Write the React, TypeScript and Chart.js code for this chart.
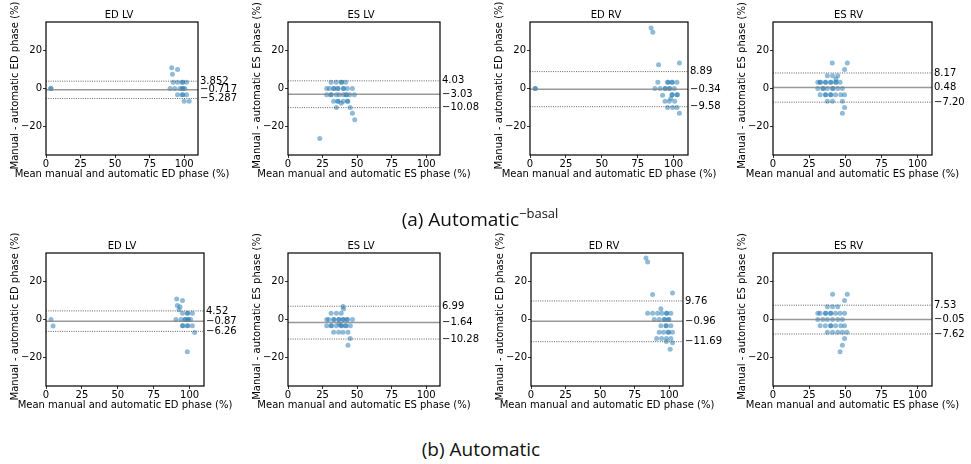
import React, { useEffect, useRef } from 'react';
import { Chart, registerables } from 'chart.js';

Chart.register(...registerables);

// ---------- shared axis settings ----------
const xTicks = [0, 25, 50, 75, 100];
const yTicks = [-20, 0, 20];
const xRange = [0, 110];
const yRange = [-35, 35];

const panelTitles = ['ED LV', 'ES LV', 'ED RV', 'ES RV'];
const xAxisTitles = [
  'Mean manual and automatic ED phase (%)',
  'Mean manual and automatic ES phase (%)',
  'Mean manual and automatic ED phase (%)',
  'Mean manual and automatic ES phase (%)',
];
const yAxisTitles = [
  'Manual - automatic ED phase (%)',
  'Manual - automatic ES phase (%)',
  'Manual - automatic ED phase (%)',
  'Manual - automatic ES phase (%)',
];
const captions = ['(a) Automatic', '(b) Automatic'];
const captionSup = '−basal';

// ---------- (a) Automatic^-basal ----------
const aEdLvX = [3.3, 3.7, 91, 95.2, 91.5, 92, 95.2, 98.5, 99, 101.7, 89.8, 93.2, 96.9, 98.6, 99.2, 100.5, 95.2, 98.5, 99, 101.7, 100, 103.6];
const aEdLvY = [0, 0, 10.9, 10, 7.5, 3.33, 3.33, 3.33, 3.33, 3.33, 0, 0, 0, 0, 0, 0, -3.33, -3.33, -3.33, -3.33, -6.67, -6.67];
const aEdLvStats = [3.852, -0.717, -5.287];
const aEdLvLabels = ['3.852', '−0.717', '−5.287'];

const aEsLvX = [23, 31.2, 34.9, 38.5, 38.8, 41.7, 28, 30, 33, 33.3, 36, 36.3, 40, 40.3, 43, 46.6, 28, 31, 31.3, 35, 37, 40, 42, 42.3, 44.6, 48, 33, 36, 36.3, 40, 43, 43.3, 38.5, 35, 45, 46.6, 48.3];
const aEsLvY = [-26.3, 3.33, 3.33, 3.33, 3.33, 3.33, 0, 0, 0, 0, 0, 0, 0, 0, 0, 0, -3.33, -3.33, -3.33, -3.33, -3.33, -3.33, -3.33, -3.33, -3.33, -3.33, -6.67, -6.67, -6.67, -6.67, -6.67, -6.67, -7.8, -10, -10, -13, -16.5];
const aEsLvStats = [4.03, -3.03, -10.08];
const aEsLvLabels = ['4.03', '−3.03', '−10.08'];

const aEdRvX = [3.5, 3.8, 84.3, 85.5, 89.5, 104, 89, 95.8, 96.1, 98.8, 99.1, 102.3, 87, 90.6, 94, 94.3, 97, 97.3, 100.5, 92.3, 98.8, 99.1, 102.3, 102.6, 98, 94, 97, 100.7, 95.8, 99.3, 102.3, 104];
const aEdRvY = [0, 0, 31.8, 29.6, 12.5, 13.4, 3.33, 3.33, 3.33, 3.33, 3.33, 3.33, 0, 0, 0, 0, 0, 0, 0, -3.5, -3.33, -3.33, -3.33, -3.33, -5.2, -6.67, -6.67, -6.67, -10, -10, -10, -13];
const aEdRvStats = [8.89, -0.34, -9.58];
const aEdRvLabels = ['8.89', '−0.34', '−9.58'];

const aEsRvX = [41, 51.4, 49.5, 37.6, 41.2, 44.8, 43.5, 31, 32.6, 33, 36.2, 36.5, 39.8, 40.1, 43.3, 43.6, 46.4, 31, 34.5, 34.8, 37.6, 41.2, 41.5, 44.8, 48, 32.6, 36.2, 36.5, 39.8, 40.1, 43.3, 46.9, 49.5, 37.6, 41.2, 48, 49.5, 48];
const aEsRvY = [13.4, 13.4, 10, 6.67, 6.67, 6.67, 5, 3.33, 3.33, 3.33, 3.33, 3.33, 3.33, 3.33, 3.33, 3.33, 3.33, 0, 0, 0, 0, 0, 0, 0, 0, -3.33, -3.33, -3.33, -3.33, -3.33, -3.33, -3.33, -3.33, -6.67, -6.67, -6.67, -10, -13];
const aEsRvStats = [8.17, 0.48, -7.2];
const aEsRvLabels = ['8.17', '0.48', '−7.20'];

// ---------- (b) Automatic ----------
const bEdLvX = [3.5, 4.9, 91, 95, 91.4, 93.3, 92.6, 95, 98.4, 98.7, 101.9, 90.5, 94, 96.7, 97, 98.8, 99.1, 100.7, 95, 95.3, 98.4, 98.7, 101.9, 103.5, 98.4];
const bEdLvY = [0, -3.4, 10.8, 10, 7.4, 6.7, 5.1, 3.33, 3.33, 3.33, 3.33, 0, 0, 0, 0, 0, 0, 0, -3.33, -3.33, -3.33, -3.33, -3.33, -6.9, -17];
const bEdLvStats = [4.52, -0.87, -6.26];
const bEdLvLabels = ['4.52', '−0.87', '−6.26'];

const bEsLvX = [39.8, 40.2, 31.2, 35, 38.5, 28, 29.5, 33, 33.3, 36.6, 36.9, 39.8, 40.1, 42.7, 43, 46.6, 37, 28, 31.2, 31.5, 35, 38.5, 38.8, 41.7, 42, 45.1, 33, 36.6, 39.8, 43.4, 45, 43.4];
const bEsLvY = [6.9, 5.5, 3.33, 3.33, 3.33, 0, 0, 0, 0, 0, 0, 0, 0, 0, 0, 0, -2.5, -3.33, -3.33, -3.33, -3.33, -3.33, -3.33, -3.33, -3.33, -3.33, -6.67, -6.67, -6.67, -6.67, -10, -13.6];
const bEsLvStats = [6.99, -1.64, -10.28];
const bEsLvLabels = ['6.99', '−1.64', '−10.28'];

const bEdRvX = [83.2, 84.4, 88, 102.4, 84.4, 88, 91.6, 94.7, 98, 98.3, 101.2, 94, 89.2, 92.8, 96.4, 96.7, 99.5, 99.8, 94, 97.6, 97.9, 101.2, 92.8, 96, 99.3, 99.6, 102.4, 90.9, 94.5, 98, 101.2, 98, 102.4, 100.7];
const bEdRvY = [32.4, 30.3, 13.1, 14, 3.33, 3.33, 3.33, 3.33, 3.33, 3.33, 3.33, 5.7, 0, 0, 0, 0, 0, 0, -3.33, -3.33, -3.33, -3.33, -6.67, -6.67, -6.67, -6.67, -6.67, -10, -10, -10, -10, -11.6, -12.2, -15.7];
const bEdRvStats = [9.76, -0.96, -11.69];
const bEdRvLabels = ['9.76', '−0.96', '−11.69'];

const bEsRvX = [41.2, 51.4, 49.5, 37.6, 41.2, 44.8, 31, 32.6, 36.2, 36.5, 39.8, 40.1, 43.3, 46.4, 49.5, 31, 34.5, 37.6, 41.2, 44.8, 48, 32.6, 36.2, 39.8, 40.1, 43.3, 46.9, 49.5, 37.6, 41.2, 44.8, 48, 51.2, 49.5, 48, 46.4];
const bEsRvY = [13.3, 13.3, 10, 6.67, 6.67, 6.67, 3.33, 3.33, 3.33, 3.33, 3.33, 3.33, 3.33, 3.33, 3.33, 0, 0, 0, 0, 0, 0, -3.33, -3.33, -3.33, -3.33, -3.33, -3.33, -3.33, -6.67, -6.67, -6.67, -6.67, -6.67, -10, -13.6, -17];
const bEsRvStats = [7.53, -0.05, -7.62];
const bEsRvLabels = ['7.53', '−0.05', '−7.62'];

// ---------- layout (page pixels) ----------
const PAD_L = 46;
const PAD_T = 22;
const PAD_B = 32;
const PLOT_H = 133;
const rowTops = [22, 253];
const rowLefts = [
  [46, 288, 530, 773],
  [46, 288, 531, 773],
];
const rowWidths = [
  [152, 152, 158, 159],
  [158, 152, 152, 159],
];
const padRights = [40, 40, 40, 38];

const FONT = "'DejaVu Sans', sans-serif";
const POINT_COLOR = 'rgba(31,119,180,0.5)';

type PanelDef = {
  xs: number[];
  ys: number[];
  stats: number[];
  labels: string[];
  col: number;
  row: number;
};

const panels: PanelDef[] = [
  { xs: aEdLvX, ys: aEdLvY, stats: aEdLvStats, labels: aEdLvLabels, col: 0, row: 0 },
  { xs: aEsLvX, ys: aEsLvY, stats: aEsLvStats, labels: aEsLvLabels, col: 1, row: 0 },
  { xs: aEdRvX, ys: aEdRvY, stats: aEdRvStats, labels: aEdRvLabels, col: 2, row: 0 },
  { xs: aEsRvX, ys: aEsRvY, stats: aEsRvStats, labels: aEsRvLabels, col: 3, row: 0 },
  { xs: bEdLvX, ys: bEdLvY, stats: bEdLvStats, labels: bEdLvLabels, col: 0, row: 1 },
  { xs: bEsLvX, ys: bEsLvY, stats: bEsLvStats, labels: bEsLvLabels, col: 1, row: 1 },
  { xs: bEdRvX, ys: bEdRvY, stats: bEdRvStats, labels: bEdRvLabels, col: 2, row: 1 },
  { xs: bEsRvX, ys: bEsRvY, stats: bEsRvStats, labels: bEsRvLabels, col: 3, row: 1 },
];

const fmt = (v: number) => (v < 0 ? '−' + Math.abs(v) : String(v));

function makeDecorPlugin(col: number) {
  return {
    id: 'decor' + col,
    afterDraw(chart: any) {
      const { ctx, chartArea } = chart;
      const { left, right, top, bottom } = chartArea;
      ctx.save();
      // frame
      ctx.strokeStyle = '#000';
      ctx.lineWidth = 1.2;
      ctx.strokeRect(left, top, right - left, bottom - top);
      // axis titles
      ctx.fillStyle = '#000';
      ctx.font = `10px ${FONT}`;
      ctx.textAlign = 'center';
      ctx.textBaseline = 'middle';
      ctx.fillText(xAxisTitles[col], (left + right) / 2, bottom + 19);
      ctx.translate(left - 31, (top + bottom) / 2 - 3);
      ctx.rotate(-Math.PI / 2);
      ctx.fillText(yAxisTitles[col], 0, 0);
      ctx.restore();
    },
  };
}

function Panel({ p }: { p: PanelDef }) {
  const ref = useRef<HTMLCanvasElement>(null);
  const w = rowWidths[p.row][p.col];
  const padR = padRights[p.col];
  const cw = PAD_L + w + padR;
  const ch = PAD_T + PLOT_H + PAD_B;
  const left = rowLefts[p.row][p.col] - PAD_L;
  const top = rowTops[p.row] - PAD_T;

  useEffect(() => {
    if (!ref.current) return;
    const tickFont = { family: FONT, size: 10 };
    const hLine = (y: number, dashed: boolean) => ({
      data: [
        { x: xRange[0], y },
        { x: xRange[1], y },
      ],
      showLine: true,
      borderColor: dashed ? 'rgba(70,70,70,0.85)' : 'rgba(128,128,128,0.8)',
      borderWidth: dashed ? 1 : 1.5,
      borderDash: dashed ? [1, 1.3] : [],
      pointRadius: 0,
      fill: false,
    });
    const chart = new Chart(ref.current, {
      type: 'scatter',
      data: {
        datasets: [
          hLine(p.stats[1], false),
          hLine(p.stats[0], true),
          hLine(p.stats[2], true),
          {
            data: p.xs.map((x, i) => ({ x, y: p.ys[i] })),
            backgroundColor: POINT_COLOR,
            borderWidth: 0,
            pointRadius: 2.5,
          },
        ],
      } as any,
      options: {
        responsive: false,
        animation: false,
        layout: { padding: 0 },
        plugins: {
          legend: { display: false },
          tooltip: { enabled: false },
          title: {
            display: true,
            text: panelTitles[p.col],
            color: '#000',
            font: { family: FONT, size: 10, weight: 'normal', lineHeight: 1.2 },
            padding: { top: 9.5, bottom: 0.5 },
          },
        },
        scales: {
          x: {
            type: 'linear',
            position: 'bottom',
            min: xRange[0],
            max: xRange[1],
            afterBuildTicks: (s: any) => {
              s.ticks = xTicks.map((v) => ({ value: v }));
            },
            afterFit: (s: any) => {
              s.height = PAD_B;
            },
            grid: { display: true, drawOnChartArea: false, drawTicks: true, tickLength: 3, color: '#000', lineWidth: 0.8 },
            border: { display: false },
            ticks: { font: tickFont, color: '#000', padding: 0, maxRotation: 0, autoSkip: false, callback: (v: any) => fmt(Number(v)) },
          },
          y: {
            type: 'linear',
            position: 'left',
            min: yRange[0],
            max: yRange[1],
            afterBuildTicks: (s: any) => {
              s.ticks = yTicks.map((v) => ({ value: v }));
            },
            afterFit: (s: any) => {
              s.width = PAD_L;
            },
            grid: { display: true, drawOnChartArea: false, drawTicks: true, tickLength: 3, color: '#000', lineWidth: 0.8 },
            border: { display: false },
            ticks: { font: tickFont, color: '#000', padding: 1, autoSkip: false, callback: (v: any) => fmt(Number(v)) },
          },
          y2: {
            type: 'linear',
            position: 'right',
            min: yRange[0],
            max: yRange[1],
            afterBuildTicks: (s: any) => {
              s.ticks = p.stats.map((v) => ({ value: v }));
            },
            afterFit: (s: any) => {
              s.width = padR;
            },
            grid: { display: false, drawTicks: false, drawOnChartArea: false },
            border: { display: false },
            ticks: {
              font: tickFont,
              color: '#000',
              padding: 2,
              autoSkip: false,
              callback: (v: any) => p.labels[p.stats.indexOf(Number(v))],
            },
          },
        },
      } as any,
      plugins: [makeDecorPlugin(p.col)],
    });
    return () => chart.destroy();
  }, []);

  return (
    <canvas
      ref={ref}
      width={cw}
      height={ch}
      style={{ position: 'absolute', left, top, width: cw, height: ch }}
    />
  );
}

export default function App() {
  return (
    <div
      style={{
        position: 'absolute',
        left: 0,
        top: 0,
        width: 971,
        height: 464,
        overflow: 'hidden',
        background: '#fff',
      }}
    >
      {panels.map((p, i) => (
        <Panel key={i} p={p} />
      ))}
      <div
        style={{
          position: 'absolute',
          left: 0,
          top: 210,
          width: 960,
          textAlign: 'center',
          fontFamily: "'Open Sans', sans-serif",
          fontSize: 19,
          lineHeight: '18px',
          color: '#111',
        }}
      >
        {captions[0]}
        <span style={{ fontSize: 13, position: 'relative', top: -8, lineHeight: 0 }}>{captionSup}</span>
      </div>
      <div
        style={{
          position: 'absolute',
          left: 0,
          top: 440,
          width: 962,
          textAlign: 'center',
          fontFamily: "'Open Sans', sans-serif",
          fontSize: 19,
          lineHeight: '18px',
          color: '#111',
        }}
      >
        {captions[1]}
      </div>
    </div>
  );
}
